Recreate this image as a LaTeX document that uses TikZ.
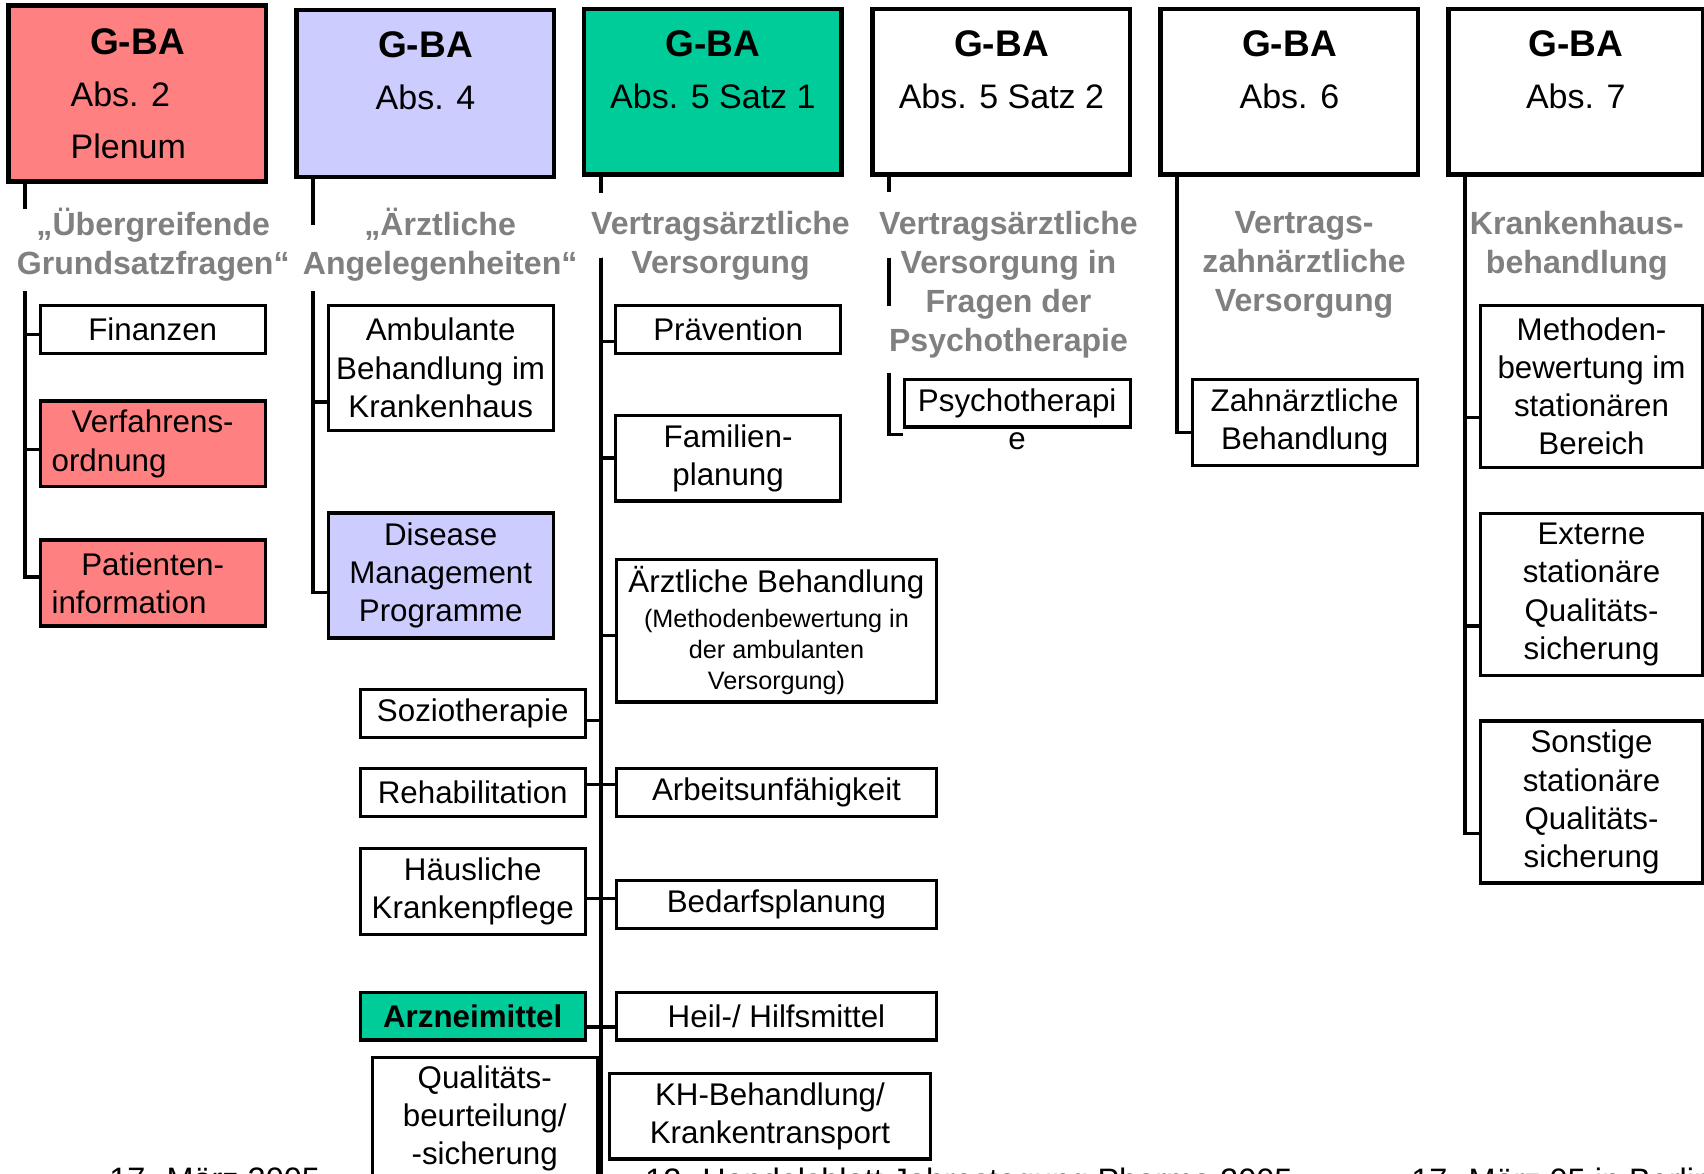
\documentclass[tikz,border=0pt]{standalone}
\usepackage{fontspec}
\setmainfont{Liberation Sans}
\usepackage{tikz}

\definecolor{plenumred}{RGB}{255,128,128}
\definecolor{abslila}{RGB}{204,204,255}
\definecolor{absgreen}{RGB}{0,204,153}
\definecolor{topicgray}{RGB}{128,128,128}

\newcommand{\leaffont}{\fontsize{8.2}{10}\selectfont}
\newcommand{\smallleaf}{\fontsize{6.6}{8.2}\selectfont}
\newcommand{\topicfont}{\fontsize{8.4}{10.25}\selectfont\bfseries}
\newcommand{\gbafont}{\fontsize{9.7}{13.6}\selectfont\bfseries}
\newcommand{\absfont}{\fontsize{8.9}{13.6}\selectfont}
\newcommand{\footerfont}{\fontsize{8.5}{10}\selectfont}

\begin{document}
\begin{tikzpicture}[
    gbabox/.style={draw, line width=1.15pt, minimum width=2.37cm, minimum height=1.52cm, inner sep=0pt, align=center, font=\absfont},
    leaf/.style={draw, line width=0.85pt, minimum width=2.07cm, inner sep=0pt, align=center, font=\leaffont},
    wideleaf/.style={leaf, minimum width=2.95cm},
    oneline/.style={minimum height=0.44cm},
    twolines/.style={minimum height=0.79cm},
    threelines/.style={minimum height=1.15cm},
    fourlines/.style={minimum height=1.49cm},
    topic/.style={text=topicgray, align=center, font=\topicfont, inner sep=1pt},
    link/.style={line width=0.85pt},
    footer/.style={anchor=north west, inner sep=0pt, font=\footerfont}]
        \useasboundingbox (0,0) rectangle (15.68,-10.80);

        \node[gbabox, fill=plenumred, minimum height=1.62cm] (abs2) at (1.265,-0.86) {{\gbafont G-BA}\\\makebox[1.8cm][l]{\hspace{0.285cm}Abs. 2}\\\makebox[1.8cm][l]{\hspace{0.285cm}Plenum}};
        \node[gbabox, fill=abslila, minimum height=1.54cm] (abs4) at (3.915,-0.86) {{\gbafont G-BA}\\Abs. 4\\[-0.05cm]\mbox{}};
        \node[gbabox, fill=absgreen] (abs5s1) at (6.56,-0.845) {{\gbafont G-BA}\\Abs. 5 Satz 1\\[-0.06cm]\mbox{}};
        \node[gbabox] (abs5s2) at (9.215,-0.845) {{\gbafont G-BA}\\Abs. 5 Satz 2\\[-0.06cm]\mbox{}};
        \node[gbabox] (abs6) at (11.865,-0.845) {{\gbafont G-BA}\\Abs. 6\\[-0.06cm]\mbox{}};
        \node[gbabox, minimum width=2.34cm] (abs7) at (14.50,-0.845) {{\gbafont G-BA}\\Abs. 7\\[-0.06cm]\mbox{}};

        \node[topic] (th1) at (1.41,-2.25) {„Übergreifende\\Grundsatzfragen“};
        \node[topic] (th2) at (4.05,-2.25) {„Ärztliche\\Angelegenheiten“};
        \node[topic] (th3) at (6.63,-2.26) {Vertragsärztliche\\Versorgung};
        \node[topic] (th4) at (9.28,-2.62) {Vertragsärztliche\\Versorgung in\\Fragen der\\Psychotherapie};
        \node[topic] (th5) at (12.00,-2.44) {Vertrags-\\zahnärztliche\\Versorgung};
        \node[topic] (th6) at (14.51,-2.26) {Krankenhaus-\\behandlung};

        \node[leaf, oneline] (fin) at (1.405,-3.03) {Finanzen};
        \node[leaf, twolines, fill=plenumred] (verf) at (1.405,-4.085) {Verfahrens-\\\makebox[1.86cm][l]{ordnung}};
        \node[leaf, twolines, fill=plenumred] (pat) at (1.405,-5.365) {Patienten-\\\makebox[1.86cm][l]{information}};

        \node[leaf, threelines] (amb) at (4.055,-3.385) {Ambulante\\Behandlung im\\Krankenhaus};
        \node[leaf, threelines, fill=abslila] (dmp) at (4.055,-5.295) {Disease\\Management\\Programme};

        \node[leaf, oneline] (praev) at (6.70,-3.03) {Prävention};
        \node[leaf, twolines] (fam) at (6.70,-4.215) {Familien-\\planung};
        \node[wideleaf, minimum height=1.31cm] (aerztl) at (7.145,-5.805) {Ärztliche Behandlung\\[-1pt]{\smallleaf (Methodenbewertung in}\\[-1.8pt]{\smallleaf der ambulanten}\\[-1.8pt]{\smallleaf Versorgung)}};
        \node[wideleaf, oneline] (au) at (7.145,-7.29) {Arbeitsunfähigkeit};
        \node[wideleaf, oneline] (bedarf) at (7.145,-8.325) {Bedarfsplanung};
        \node[wideleaf, oneline] (heil) at (7.145,-9.35) {Heil-/ Hilfsmittel};
        \node[wideleaf, twolines] (kh) at (7.085,-10.27) {KH-Behandlung/\\Krankentransport};

        \node[leaf, oneline] (sozio) at (4.35,-6.565) {Soziotherapie};
        \node[leaf, oneline] (reha) at (4.35,-7.29) {Rehabilitation};
        \node[leaf, twolines] (hkp) at (4.35,-8.205) {Häusliche\\Krankenpflege};
        \node[leaf, oneline, fill=absgreen, font=\leaffont\bfseries] (arznei) at (4.35,-9.35) {Arzneimittel};
        \node[leaf, minimum height=1.12cm] (quali) at (4.46,-10.29) {Qualitäts-\\beurteilung/\\-sicherung};

        \node[leaf, oneline, minimum width=2.08cm] (psy) at (9.36,-3.71) {Psychotherapi};
        \node[font=\leaffont, inner sep=0pt, anchor=base] (psytail) at ([yshift=-0.35cm]psy.base) {e};

        \node[leaf, twolines] (zahn) at (12.005,-3.89) {Zahnärztliche\\Behandlung};

        \node[leaf, fourlines, minimum width=2.05cm] (meth) at (14.645,-3.555) {Methoden-\\bewertung im\\stationären\\Bereich};
        \node[leaf, fourlines, minimum width=2.05cm] (ext) at (14.645,-5.47) {Externe\\stationäre\\Qualitäts-\\sicherung};
        \node[leaf, fourlines, minimum width=2.05cm] (sonst) at (14.645,-7.38) {Sonstige\\stationäre\\Qualitäts-\\sicherung};

        \node[footer] (datum) at (1.00,-10.74) {17. März 2005};
        \node[footer] (tagung) at (5.93,-10.74) {12. Handelsblatt Jahrestagung Pharma 2005};
        \node[footer] (ort) at (12.98,-10.74) {17. März 05 in Berlin};

        \coordinate (c1s) at (0.23,-1.92);
        \coordinate (c1) at (0.23,-2.68);
        \coordinate (c2s) at (2.88,-2.07);
        \coordinate (c2) at (2.88,-2.68);
        \coordinate (c3s) at (5.53,-1.78);
        \coordinate (c3) at (5.53,-2.37);
        \coordinate (c3end) at (5.53,-10.95);
        \coordinate (c4s) at (8.18,-1.77);
        \coordinate (c4a) at (8.18,-2.37);
        \coordinate (c4b) at (8.18,-2.82);
        \coordinate (c4) at (8.18,-3.43);
        \coordinate (c5) at (10.83,-2);
        \coordinate (c6) at (13.48,-2);

        \draw[link] (abs2.south -| c1) -- (c1s);
        \draw[link] (c1) |- ([yshift=-0.05cm]fin.west);
        \draw[link] (c1) |- ([yshift=-0.05cm]verf.west);
        \draw[link] (c1) |- ([yshift=0.055cm]pat.west);

        \draw[link] (abs4.south -| c2) -- (c2s);
        \draw[link] (c2) |- ([yshift=-0.315cm]amb.west);
        \draw[link] (c2) |- ([yshift=-0.16cm]dmp.west);

        \draw[link] (abs5s1.south -| c3) -- (c3s);
        \draw[link] (c3) -- (c3end);
        \draw[link] (c3) |- ([yshift=-0.11cm]praev.west);
        \draw[link] (c3) |- (fam.west);
        \draw[link] (c3) |- ([yshift=-0.045cm]aerztl.west);
        \draw[link] (c3) |- ([yshift=0.07cm]au.west);
        \draw[link] (c3) |- ([yshift=0.055cm]bedarf.west);
        \draw[link] (c3) |- ([yshift=-0.1cm]heil.west);
        \draw[link] (c3) |- ([yshift=-0.065cm]sozio.east);
        \draw[link] (c3) |- ([yshift=0.07cm]reha.east);
        \draw[link] (c3) |- ([yshift=-0.065cm]hkp.east);
        \draw[link] (c3) |- ([yshift=-0.1cm]arznei.east);

        \draw[link] (abs5s2.south -| c4a) -- (c4s);
        \draw[link] (c4a) -- (c4b);
        \draw[link] (c4) |- ([yshift=-0.05cm]psy.south west);

        \draw[link] (abs6.south -| c5) |- ([yshift=-0.09cm]zahn.west);

        \draw[link] (abs7.south -| c6) |- ([yshift=-0.29cm]meth.west);
        \draw[link] (abs7.south -| c6) |- ([yshift=-0.29cm]ext.west);
        \draw[link] (abs7.south -| c6) |- ([yshift=-0.29cm]sonst.west);
    \end{tikzpicture}
\end{document}
